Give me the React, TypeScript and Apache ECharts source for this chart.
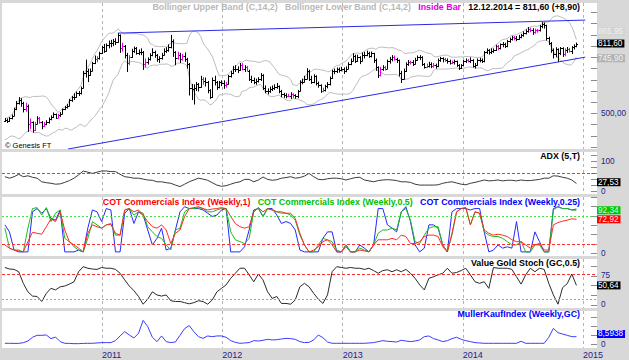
import React, { useEffect, useRef } from 'react';
import * as echarts from 'echarts';

// ---------------- data ----------------
// weekly bars, first bar Friday 12.03.2010, one bar per week
const firstWeek = { y: 2010, m: 2, d: 12 };
// closes of the 13 weeks before the first bar (for the Bollinger warm-up)
const priorClose = [400, 392, 405, 415, 425, 440, 425, 420, 428, 432, 445, 455, 468];
const close = [
  472, 468, 478, 490, 520, 545, 560, 545, 522, 535,
  455, 462, 425, 455, 480, 462, 445, 455, 460, 476,
  484, 498, 482, 492, 500, 518, 528, 535, 560, 572,
  575, 592, 590, 615, 680, 690, 672, 690, 725, 742,
  745, 770, 795, 780, 805, 815, 812, 825, 818, 850,
  790, 800, 762, 725, 752, 780, 792, 770, 772, 775,
  722, 728, 742, 760, 775, 760, 742, 745, 762, 780,
  782, 795, 822, 775, 748, 762, 742, 758, 742, 722,
  615, 608, 615, 630, 618, 655, 645, 640, 605, 572,
  648, 640, 618, 640, 638, 625, 632, 665, 680, 698,
  700, 692, 718, 700, 705, 690, 655, 650, 640, 645,
  652, 672, 612, 600, 598, 610, 612, 620, 622, 602,
  585, 582, 578, 580, 585, 582, 578, 600, 640, 642,
  655, 690, 655, 640, 668, 635, 625, 600, 605, 622,
  630, 660, 688, 690, 698, 692, 700, 688, 700, 722,
  735, 758, 735, 752, 735, 760, 762, 770, 758, 768,
  740, 705, 672, 700, 705, 700, 735, 742, 752, 742,
  738, 680, 655, 690, 722, 730, 728, 722, 740, 752,
  750, 720, 708, 712, 722, 712, 718, 710, 738, 745,
  742, 740, 735, 725, 730, 732, 715, 702, 715, 732,
  738, 736, 740, 712, 716, 740, 738, 732, 772, 782,
  772, 780, 782, 800, 790, 808, 808, 800, 822, 832,
  840, 838, 830, 842, 848, 860, 868, 876, 870, 862,
  872, 870, 888, 898, 892, 835, 815, 782, 765, 785,
  768, 790, 765, 782, 788, 780, 795, 802.7, 811.6,
];
const high = [
  480, 478, 484, 496, 526, 556, 573, 568, 552, 548,
  540, 478, 465, 462, 488, 485, 466, 462, 470, 482,
  492, 505, 500, 498, 506, 522, 534, 542, 565, 578,
  590, 598, 600, 620, 690, 740, 700, 700, 730, 758,
  755, 775, 800, 810, 812, 825, 828, 832, 835, 858,
  852, 815, 805, 770, 760, 788, 798, 796, 785, 790,
  778, 745, 750, 768, 790, 780, 765, 755, 770, 790,
  795, 808, 850, 830, 778, 775, 770, 765, 772, 748,
  725, 632, 630, 640, 636, 668, 662, 660, 645, 608,
  660, 668, 645, 645, 648, 648, 640, 672, 690, 712,
  715, 710, 725, 724, 715, 712, 695, 668, 660, 655,
  662, 680, 675, 625, 612, 620, 625, 630, 636, 625,
  605, 592, 590, 588, 595, 590, 586, 605, 648, 655,
  668, 702, 695, 668, 675, 670, 642, 630, 615, 628,
  640, 665, 695, 700, 705, 705, 708, 705, 710, 728,
  745, 768, 762, 762, 755, 772, 775, 780, 775, 776,
  770, 745, 710, 708, 715, 712, 740, 752, 760, 758,
  748, 740, 690, 700, 728, 738, 735, 738, 748, 758,
  760, 755, 725, 722, 730, 728, 725, 722, 745, 752,
  750, 748, 745, 740, 736, 740, 736, 720, 720, 738,
  745, 742, 750, 742, 725, 745, 748, 745, 778, 790,
  786, 790, 790, 806, 805, 812, 818, 815, 828, 838,
  846, 845, 845, 850, 855, 866, 875, 885, 882, 880,
  878, 876, 894, 907, 905, 895, 842, 818, 790, 795,
  790, 796, 795, 790, 796, 792, 800, 808, 816,
];
const low = [
  462, 458, 462, 474, 488, 515, 540, 530, 505, 508,
  418, 430, 415, 422, 452, 455, 430, 440, 448, 455,
  470, 480, 476, 478, 485, 496, 515, 522, 532, 552,
  560, 570, 578, 585, 612, 660, 640, 668, 688, 720,
  728, 740, 765, 770, 775, 790, 795, 800, 805, 815,
  770, 775, 745, 685, 715, 748, 770, 762, 760, 760,
  694, 705, 718, 736, 755, 748, 730, 725, 740, 758,
  770, 775, 790, 752, 715, 740, 725, 735, 730, 700,
  580, 560, 540, 600, 598, 615, 628, 620, 590, 565,
  570, 625, 605, 612, 622, 610, 615, 628, 660, 675,
  685, 680, 690, 692, 685, 688, 645, 636, 630, 628,
  638, 645, 605, 590, 585, 592, 600, 605, 610, 590,
  572, 570, 568, 572, 565, 570, 566, 568, 598, 630,
  638, 652, 645, 632, 635, 625, 615, 592, 595, 598,
  612, 625, 655, 675, 680, 682, 688, 676, 684, 698,
  715, 732, 725, 730, 720, 732, 745, 755, 748, 750,
  725, 690, 658, 665, 690, 692, 698, 722, 732, 735,
  725, 665, 636, 652, 685, 712, 718, 712, 718, 735,
  738, 712, 700, 702, 705, 702, 704, 700, 706, 730,
  728, 730, 722, 718, 720, 718, 708, 694, 698, 710,
  725, 728, 725, 705, 700, 712, 728, 725, 728, 765,
  762, 765, 770, 778, 782, 785, 795, 792, 795, 815,
  825, 826, 822, 828, 835, 842, 852, 860, 862, 850,
  855, 860, 865, 880, 878, 825, 805, 770, 745, 750,
  729, 760, 752, 755, 770, 772, 765, 785, 795,
];
// indicator lines, one value every second week
const adx = [
  50, 45, 50, 58, 50, 53, 48, 45, 33, 30,
  28, 25, 26, 31, 37, 45, 56, 69, 65, 61,
  65, 69, 69, 67, 67, 58, 50, 48, 45, 45,
  42, 39, 38, 33, 33, 30, 28, 22, 17, 25,
  33, 39, 45, 42, 38, 30, 22, 18, 20, 25,
  30, 33, 41, 41, 33, 39, 49, 41, 38, 40,
  45, 47, 50, 45, 47, 52, 61, 50, 41, 40,
  43, 45, 45, 43, 39, 43, 47, 48, 39, 36,
  33, 37, 39, 40, 39, 37, 33, 33, 31, 25,
  22, 22, 22, 22, 23, 28, 31, 33, 29, 25,
  23, 28, 31, 35, 39, 36, 37, 39, 36, 38,
  38, 36, 39, 37, 37, 39, 41, 45, 45, 53,
  52, 48, 45, 39, 27.53,
];
const cotWeekly1 = [
  18, 11, 7, 5, 3, 25, 45, 43, 41, 57,
  74, 68, 89, 50, 25, 18, 11, 3, 43, 61,
  57, 54, 61, 62, 43, 39, 93, 96, 89, 93,
  82, 68, 57, 54, 61, 50, 21, 43, 50, 79,
  96, 98, 100, 96, 93, 95, 96, 98, 96, 79,
  64, 57, 54, 57, 89, 98, 89, 96, 93, 89,
  89, 86, 86, 75, 43, 18, 3, 7, 14, 25,
  29, 18, 3, 3, 14, 3, 3, 7, 5, 3,
  18, 29, 29, 29, 32, 29, 39, 36, 21, 21,
  25, 36, 39, 39, 36, 14, 3, 43, 89, 96,
  98, 61, 89, 86, 50, 43, 39, 41, 39, 36,
  29, 25, 25, 18, 11, 18, 21, 7, 7, 61,
  66, 69, 71, 74, 72.92,
];
const cotWeekly05 = [
  54, 11, 7, 7, 3, 54, 96, 98, 82, 98,
  68, 86, 93, 32, 25, 14, 7, 3, 32, 68,
  61, 54, 61, 64, 39, 39, 93, 96, 82, 89,
  86, 57, 46, 36, 32, 18, 7, 50, 54, 89,
  96, 96, 98, 96, 89, 89, 93, 96, 96, 46,
  29, 25, 21, 32, 89, 98, 79, 96, 93, 89,
  86, 86, 82, 71, 39, 18, 3, 3, 18, 32,
  29, 25, 7, 3, 18, 3, 3, 11, 7, 3,
  18, 43, 50, 50, 54, 50, 89, 96, 71, 25,
  21, 39, 54, 57, 57, 18, 3, 39, 89, 96,
  98, 61, 89, 86, 46, 39, 36, 36, 32, 25,
  18, 18, 25, 3, 3, 18, 18, 3, 3, 93,
  100, 96, 96, 93, 92.34,
];
const cotWeekly025 = [
  61, 46, 7, 3, 3, 3, 89, 96, 86, 96,
  75, 71, 93, 3, 3, 3, 7, 3, 54, 93,
  89, 68, 96, 93, 3, 3, 86, 96, 64, 89,
  82, 50, 18, 32, 54, 7, 11, 50, 89, 100,
  96, 96, 96, 93, 86, 79, 82, 93, 96, 3,
  3, 3, 14, 50, 93, 96, 79, 96, 96, 82,
  64, 68, 64, 50, 7, 3, 3, 3, 3, 32,
  46, 46, 3, 3, 18, 3, 3, 18, 11, 3,
  18, 96, 96, 61, 54, 46, 89, 100, 68, 18,
  3, 11, 61, 61, 54, 18, 3, 89, 96, 96,
  96, 93, 96, 96, 46, 3, 7, 18, 11, 14,
  11, 68, 3, 3, 3, 46, 25, 3, 3, 96,
  100, 96, 96, 93, 95,
];
const valueGoldStoch = [
  97, 93, 92, 86, 56, 34, 23, 22, 9, 30,
  43, 39, 47, 49, 54, 60, 86, 99, 95, 93,
  92, 97, 95, 95, 92, 82, 65, 49, 37, 22,
  2, 15, 34, 26, 23, 26, 11, 9, 9, 6,
  3, 6, 11, 9, 2, 13, 34, 43, 52, 69,
  82, 95, 95, 78, 60, 80, 65, 34, 17, 22,
  4, 4, 2, 13, 47, 56, 47, 30, 15, 4,
  26, 86, 99, 97, 95, 97, 95, 95, 92, 95,
  89, 82, 89, 91, 86, 91, 86, 92, 82, 69,
  52, 39, 69, 73, 78, 82, 95, 82, 84, 89,
  95, 78, 60, 56, 60, 43, 97, 95, 95, 95,
  92, 73, 54, 78, 95, 86, 95, 92, 56, 26,
  2, 45, 55, 80, 50.64,
];
const mullerKauf = [
  1.1, 1.1, 1, 1, 1.8, 3.7, 7.9, 10.1, 10.1, 10.5,
  6.4, 8.2, 3, 1.1, 1, 0.7, 0.7, 1, 1.1, 1.1,
  1.5, 1.9, 1.9, 1.9, 4.1, 9.4, 14.3, 10.5, 7.1, 12.4,
  27, 20, 7.9, 3, 9.4, 3, 1.9, 2.6, 10.1, 17.7,
  21.1, 14.3, 8.6, 6.7, 9.4, 8.6, 9.4, 9.4, 7.9, 4.1,
  2.2, 1.1, 1.5, 1.9, 4.1, 3.7, 4.5, 5.6, 4.9, 5.2,
  6, 6.7, 6.4, 5.6, 3, 1.9, 2.2, 4.9, 10.5, 7.5,
  2.6, 1.1, 1.1, 1.1, 1.1, 1.1, 1.1, 1.1, 1.1, 1.5,
  1.9, 3, 4.1, 3.4, 3, 2.6, 4.5, 3.7, 3, 3.7,
  4.9, 8.6, 9.4, 6.4, 4.9, 3, 4.1, 6.4, 7.9, 5.6,
  4.1, 3, 1.9, 1.5, 1.1, 1.1, 1.1, 1.1, 1.1, 1.1,
  1.1, 1.1, 3.4, 1.1, 1.1, 1.1, 1.1, 1.1, 7.9, 18,
  13.1, 11.6, 10.1, 8.6, 8.5938,
];
const bbUpperLast = 865.95;
const bbLowerLast = 745.9;
const upperTrend: [string, number][] = [['2011-02-18', 858], ['2015-01-08', 916]];
const lowerTrend: [string, number][] = [['2010-09-20', 342], ['2015-01-08', 751]];
const yearTicks = [2011, 2012, 2013, 2014, 2015];
const priceTicks = [350, 400, 450, 500, 550, 600, 650, 700, 750, 800, 850, 900, 950];
const priceLabels = [500];
const adxTicks = [0, 20, 40, 60, 80, 100, 120];
const adxLabels = [0, 100];
const adxLevels = [60];
const cotTicks = [0, 20, 40, 60, 80, 100, 120];
const cotLabels = [0];
const cotLevels = [80, 20];
const stochTicks = [0, 25, 50, 75, 100];
const stochLabels = [0, 75];
const stochLevels = [80, 15];
const mullerTicks = [0, 10, 20, 30];
const mullerLabels = [0];

// ---------------- layout / style ----------------
const FONT = '"Liberation Sans", Arial, sans-serif';
const NAVY = '#23238a';
const TITLE_SIZE = 8.85;
const GL = 2;
const GR = 32;
const panels = [
  { top: 3, height: 146, min: 342, max: 992 },
  { top: 152, height: 42, min: -7.7, max: 132.3 },
  { top: 197, height: 59, min: -5.8, max: 120.8 },
  { top: 259, height: 49, min: -7.8, max: 118.9 },
  { top: 311, height: 37, min: -4.2, max: 37.6 },
];
const xMin = new Date(2010, 2, 3, 8).getTime();
const xMax = new Date(2015, 1, 12, 12).getTime();

const fmt = (v: number, d = 2) => v.toFixed(d).replace('.', ',');
const toTs = (s: string) => {
  const [y, m, d] = s.split('-').map(Number);
  return new Date(y, m - 1, d).getTime();
};

function buildOption() {
  const weekTs = close.map((_, i) => new Date(firstWeek.y, firstWeek.m, firstWeek.d + 7 * i).getTime());
  const lineTs = adx.map((_, k) => weekTs[2 * k]);
  const open = close.map((_, i) => (i === 0 ? priorClose[priorClose.length - 1] : close[i - 1]));
  const ohlc = close.map((c, i) => {
    const inside = i > 0 && high[i] < high[i - 1] && low[i] > low[i - 1] ? 1 : 0;
    return [weekTs[i], open[i], high[i], low[i], c, inside];
  });
  const all = priorClose.concat(close);
  const N = 14;
  const bbUp: number[][] = [];
  const bbLo: number[][] = [];
  close.forEach((_, i) => {
    const j = i + priorClose.length;
    const win = all.slice(j - N + 1, j + 1);
    const mean = win.reduce((a, b) => a + b, 0) / N;
    const sd = Math.sqrt(win.reduce((a, b) => a + (b - mean) * (b - mean), 0) / N);
    bbUp.push([weekTs[i], mean + 2 * sd]);
    bbLo.push([weekTs[i], mean - 2 * sd]);
  });
  const pair = (arr: number[]) => arr.map((v, k) => [lineTs[k], v]);
  const lastClose = close[close.length - 1];
  const change = lastClose - close[close.length - 2];
  const ld = new Date(weekTs[weekTs.length - 1]);
  const p2 = (n: number) => (n < 10 ? '0' + n : '' + n);
  const lastDate = `${p2(ld.getDate())}.${p2(ld.getMonth() + 1)}.${ld.getFullYear()}`;
  const yearTs = yearTicks.map((y) => new Date(y, 0, 1).getTime());

  const rs = (color: string) => ({ color, fontSize: TITLE_SIZE, fontWeight: 'bold', fontFamily: FONT, lineHeight: 10 });

  const titles = [
    {
      top: 2.3,
      text: `{g|Bollinger Upper Band (C,14,2)}   {g|Bollinger Lower Band (C,14,2)}   {m|Inside Bar}   {k|${lastDate} = ${fmt(lastClose)} (${change >= 0 ? '+' : ''}${fmt(change)})}`,
      rich: { g: rs('#b8b8b8'), m: rs('#e000e0'), k: rs('#000000') },
    },
    { top: 150.5, text: '{k|ADX (5,T)}', rich: { k: rs('#000000') } },
    {
      top: 196.7,
      text: '{r|COT Commercials Index (Weekly,1)}   {g|COT Commercials Index (Weekly,0.5)}   {b|COT Commercials Index (Weekly,0.25)}',
      rich: { r: rs('#ff0000'), g: rs('#00c000'), b: rs('#0000ff') },
    },
    { top: 258, text: '{k|Value Gold Stoch (GC,0.5)}', rich: { k: rs('#000000') } },
    { top: 309, text: '{b|MullerKaufIndex (Weekly,GC)}', rich: { b: rs('#0000ff') } },
  ].map((t) => ({
    right: 49,
    top: t.top,
    padding: 0,
    text: t.text,
    textStyle: { rich: t.rich, fontSize: TITLE_SIZE, fontFamily: FONT },
  }));

  const mainY = (gi: number, ticks: number[], labels: number[], f: (v: number) => string) => ({
    type: 'value',
    gridIndex: gi,
    position: 'right',
    min: panels[gi].min,
    max: panels[gi].max,
    axisLine: { show: false },
    splitLine: { show: false },
    axisTick: { show: true, inside: true, length: 6, customValues: ticks, lineStyle: { color: '#8a8a8a' } },
    axisLabel: {
      show: true,
      customValues: labels,
      formatter: (v: number) => f(v),
      color: NAVY,
      fontSize: 8.2,
      lineHeight: 7,
      fontFamily: FONT,
      margin: 4,
    },
  });
  // value box at the right edge; "lift" raises the box by a few pixels (as in the reference)
  const boxY = (gi: number, value: number, text: string, bg: string, fg: string, lift = 0) => {
    const p = panels[gi];
    const shift = (lift * (p.max - p.min)) / p.height;
    return {
      type: 'value',
      gridIndex: gi,
      position: 'right',
      min: p.min - shift,
      max: p.max - shift,
      z: 10,
      axisLine: { show: false },
      splitLine: { show: false },
      axisTick: { show: false },
      axisLabel: {
        show: true,
        customValues: [value],
        formatter: () => text,
        backgroundColor: bg,
        color: fg,
        padding: [1, 2, 0, 1],
        margin: 0,
        fontSize: 8.2,
        lineHeight: 7,
        fontFamily: FONT,
      },
    };
  };

  const yAxis = [
    mainY(0, priceTicks, priceLabels, (v) => fmt(v)), // 0
    boxY(0, bbUpperLast, fmt(bbUpperLast), '#d2d2d2', '#f2f2f2'), // 1
    boxY(0, bbLowerLast, fmt(bbLowerLast), '#b2b2b2', '#f4f4f4'), // 2
    boxY(0, lastClose, fmt(lastClose), '#000000', '#ffffff'), // 3
    mainY(1, adxTicks, adxLabels, (v) => String(v)), // 4
    boxY(1, adx[adx.length - 1], fmt(adx[adx.length - 1]), '#000000', '#ffffff', 1.2), // 5
    mainY(2, cotTicks, cotLabels, (v) => String(v)), // 6
    boxY(2, cotWeekly05[cotWeekly05.length - 1], fmt(cotWeekly05[cotWeekly05.length - 1]), '#00c800', '#d8ffd8'), // 7
    boxY(2, cotWeekly1[cotWeekly1.length - 1], fmt(cotWeekly1[cotWeekly1.length - 1]), '#ff0000', '#ffe0e0'), // 8
    mainY(3, stochTicks, stochLabels, (v) => String(v)), // 9
    boxY(3, valueGoldStoch[valueGoldStoch.length - 1], fmt(valueGoldStoch[valueGoldStoch.length - 1]), '#000000', '#ffffff'), // 10
    mainY(4, mullerTicks, mullerLabels, (v) => String(v)), // 11
    boxY(4, mullerKauf[mullerKauf.length - 1], fmt(mullerKauf[mullerKauf.length - 1], 4), '#0000ff', '#ffffff', 2.7), // 12
  ];

  const xAxis = panels.map((_, i) => ({
    type: 'value',
    gridIndex: i,
    min: xMin,
    max: xMax,
    axisLine: { show: false },
    axisTick: { show: false, customValues: yearTs },
    splitLine: { show: true, lineStyle: { color: '#b4b4b4', type: [3, 3], width: 1 } },
    axisLabel:
      i === panels.length - 1
        ? {
            show: true,
            customValues: yearTs,
            formatter: (v: number) => String(new Date(v).getFullYear()),
            align: 'left',
            margin: 2,
            color: NAVY,
            fontSize: 9,
            fontFamily: FONT,
          }
        : { show: false },
  }));

  const levelLine = (levels: number[], styles: any[]) => ({
    silent: true,
    symbol: 'none',
    label: { show: false },
    data: levels.map((v, i) => ({ yAxis: v, lineStyle: { width: 1, ...styles[i] } })),
  });
  const RED_DASH = { color: '#ff3030', type: [3, 2] };
  const GREEN_DOT = { color: '#50d850', type: [2, 2] };

  const line = (xi: number, yi: number, data: any[], color: string, extra: any = {}) => ({
    type: 'line',
    xAxisIndex: xi,
    yAxisIndex: yi,
    data,
    symbol: 'none',
    showSymbol: false,
    lineStyle: { color, width: 1 },
    ...extra,
  });

  const trend = (t: [string, number][]) => t.map(([d, v]) => [toTs(d), v]);

  const series: any[] = [
    line(0, 0, bbUp, '#bcbcbc', { z: 2 }),
    line(0, 0, bbLo, '#bcbcbc', { z: 2 }),
    {
      type: 'custom',
      xAxisIndex: 0,
      yAxisIndex: 0,
      z: 3,
      clip: true,
      data: ohlc,
      encode: { x: 0, y: [1, 2, 3, 4] },
      renderItem: (_: any, api: any) => {
        const t = api.value(0);
        const pH = api.coord([t, api.value(2)]);
        const pL = api.coord([t, api.value(3)]);
        const pO = api.coord([t, api.value(1)]);
        const pC = api.coord([t, api.value(4)]);
        const color = api.value(5) ? '#e600e6' : '#000000';
        const x = Math.round(pH[0]) + 0.5;
        const st = { stroke: color, lineWidth: 1 };
        return {
          type: 'group',
          children: [
            { type: 'line', shape: { x1: x, y1: pH[1], x2: x, y2: pL[1] }, style: st },
            { type: 'line', shape: { x1: x - 1.5, y1: Math.round(pO[1]) + 0.5, x2: x, y2: Math.round(pO[1]) + 0.5 }, style: st },
            { type: 'line', shape: { x1: x, y1: Math.round(pC[1]) + 0.5, x2: x + 1.5, y2: Math.round(pC[1]) + 0.5 }, style: st },
          ],
        };
      },
    },
    line(0, 0, trend(upperTrend), '#2a2ae8', { z: 4 }),
    line(0, 0, trend(lowerTrend), '#2a2ae8', { z: 4 }),
    line(1, 4, pair(adx), '#3c3c3c', { markLine: levelLine(adxLevels, [RED_DASH]) }),
    line(2, 6, pair(cotWeekly025), '#2828ff', { markLine: levelLine(cotLevels, [GREEN_DOT, RED_DASH]) }),
    line(2, 6, pair(cotWeekly05), '#18c018'),
    line(2, 6, pair(cotWeekly1), '#ff2a2a'),
    line(3, 9, pair(valueGoldStoch), '#2a2a2a', { markLine: levelLine(stochLevels, [RED_DASH, GREEN_DOT]) }),
    line(4, 11, pair(mullerKauf), '#3c3cff'),
  ];

  return {
    animation: false,
    backgroundColor: '#d8d8d8',
    textStyle: { fontFamily: FONT },
    title: titles,
    grid: panels.map((p) => ({
      left: GL,
      right: GR,
      top: p.top,
      height: p.height,
      show: true,
      backgroundColor: '#ffffff',
      borderWidth: 0,
    })),
    xAxis,
    yAxis,
    series,
    graphic: [
      {
        type: 'text',
        left: 5,
        top: 141.5,
        z: 20,
        style: { text: '© Genesis FT', fill: '#000000', fontSize: 7.5, fontFamily: FONT },
      },
    ],
  };
}

export default function App() {
  const ref = useRef<HTMLDivElement>(null);
  useEffect(() => {
    if (!ref.current) return;
    const chart = echarts.init(ref.current, null, { renderer: 'svg' });
    chart.setOption(buildOption() as any);
    return () => chart.dispose();
  }, []);
  return (
    <div
      ref={ref}
      style={{ position: 'fixed', left: 0, top: 0, width: 629, height: 360, background: '#d8d8d8' }}
    />
  );
}
